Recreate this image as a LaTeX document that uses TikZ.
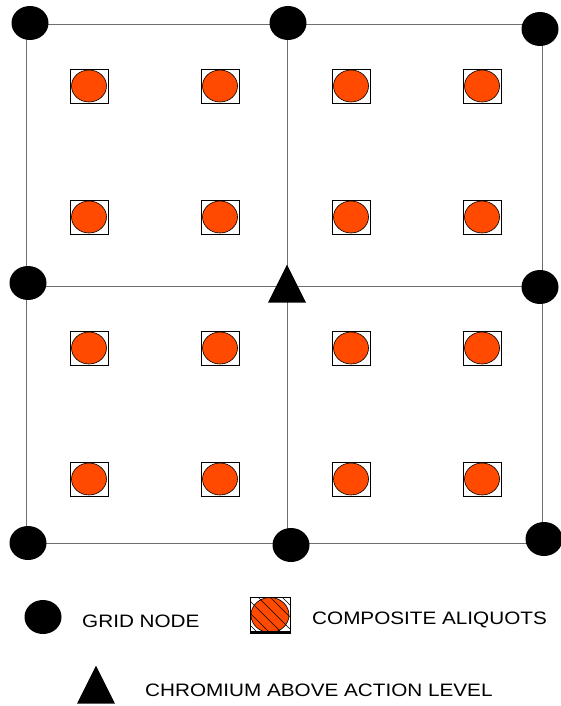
\documentclass[tikz,border=0pt]{standalone}
\usepackage{fontspec}
\setmainfont{Liberation Sans}[FakeStretch=1.15]
\usetikzlibrary{shapes.geometric}
\definecolor{alqorange}{HTML}{FF4A00}
\definecolor{gridgray}{HTML}{6E6E6E}

\tikzset{
  gridline/.style={draw=gridgray, line width=0.9pt},
  gridnode/.style={ellipse, fill=black, inner sep=0pt,
                   minimum width=37pt, minimum height=34pt},
  aliquot/.style={draw=black, line width=0.6pt, inner sep=0pt,
                  minimum width=38pt, minimum height=34pt,
                  path picture={\draw[fill=alqorange, line width=0.6pt]
                    (path picture bounding box.center) ellipse (17.5pt and 16pt);}},
  hatchaliquot/.style={draw=black, line width=0.6pt, inner sep=0pt,
                  minimum width=40pt, minimum height=36pt,
                  path picture={
                    \draw[fill=alqorange, line width=0.6pt]
                      (path picture bounding box.center) ellipse (19pt and 17.5pt);
                    \foreach \k in {-30,-18,-6,6,18,30}
                      \draw[shift={(path picture bounding box.center)}, line width=0.5pt]
                        (\k-20,-20) -- (\k+20,20);
                    \draw[line width=5pt] (path picture bounding box.south west)
                      -- (path picture bounding box.south east);}},
  chromium/.style={isosceles triangle, isosceles triangle stretches,
                   shape border rotate=90, fill=black, inner sep=0pt,
                   minimum width=38pt, minimum height=38pt, anchor=apex},
  legendtext/.style={anchor=base west, inner sep=0pt,
                     font=\fontsize{18}{21}\selectfont}
}

\begin{document}
\begin{tikzpicture}[x=1pt, y=-1pt]
    \useasboundingbox (0,0) rectangle (561,706);
    % grid corners
    \coordinate (c-tl) at (26,24);
    \coordinate (c-tm) at (287,24);
    \coordinate (c-tr) at (542,24);
    \coordinate (c-ml) at (26,286);
    \coordinate (c-mr) at (542,286);
    \coordinate (c-bl) at (26,543);
    \coordinate (c-bm) at (287,543);
    \coordinate (c-br) at (542,543);
    \draw[gridline] (c-tl) -- (c-tr) -- (c-br) -- (c-bl) -- cycle;
    \draw[gridline] (c-tm) -- (c-bm);
    \draw[gridline] (c-ml) -- (c-mr);

    % grid nodes
    \node[gridnode] (gn-tl) at (30,23) {};
    \node[gridnode] (gn-tm) at (288,23) {};
    \node[gridnode] (gn-tr) at (540,29) {};
    \node[gridnode] (gn-ml) at (28,283) {};
    \node[gridnode] (gn-mr) at (540,287) {};
    \node[gridnode] (gn-bl) at (28,543) {};
    \node[gridnode] (gn-bm) at (291,545) {};
    \node[gridnode] (gn-br) at (544,539) {};

    % composite aliquots
    \node[aliquot] (a11) at (89,86) {};
    \node[aliquot] (a12) at (220,86) {};
    \node[aliquot] (a13) at (351,86) {};
    \node[aliquot] (a14) at (482,86) {};
    \node[aliquot] (a21) at (89,217) {};
    \node[aliquot] (a22) at (220,217) {};
    \node[aliquot] (a23) at (351,217) {};
    \node[aliquot] (a24) at (482,217) {};
    \node[aliquot] (a31) at (89,348) {};
    \node[aliquot] (a32) at (220,348) {};
    \node[aliquot] (a33) at (351,348) {};
    \node[aliquot] (a34) at (482,348) {};
    \node[aliquot] (a41) at (89,479) {};
    \node[aliquot] (a42) at (220,479) {};
    \node[aliquot] (a43) at (351,479) {};
    \node[aliquot] (a44) at (482,479) {};

    \node[chromium] (cr) at (287,264) {};

    % legend
    \node[gridnode] (leg-gn) at (43,617) {};
    \node[legendtext] (leg-gn-t) at (82,627) {GRID NODE};
    \node[hatchaliquot] (leg-alq) at (270,615) {};
    \node[legendtext] (leg-alq-t) at (312,624) {COMPOSITE ALIQUOTS};
    \node[chromium] (leg-cr) at (96,665) {};
    \node[legendtext] (leg-cr-t) at (145,696) {CHROMIUM ABOVE ACTION LEVEL};
\end{tikzpicture}
\end{document}
